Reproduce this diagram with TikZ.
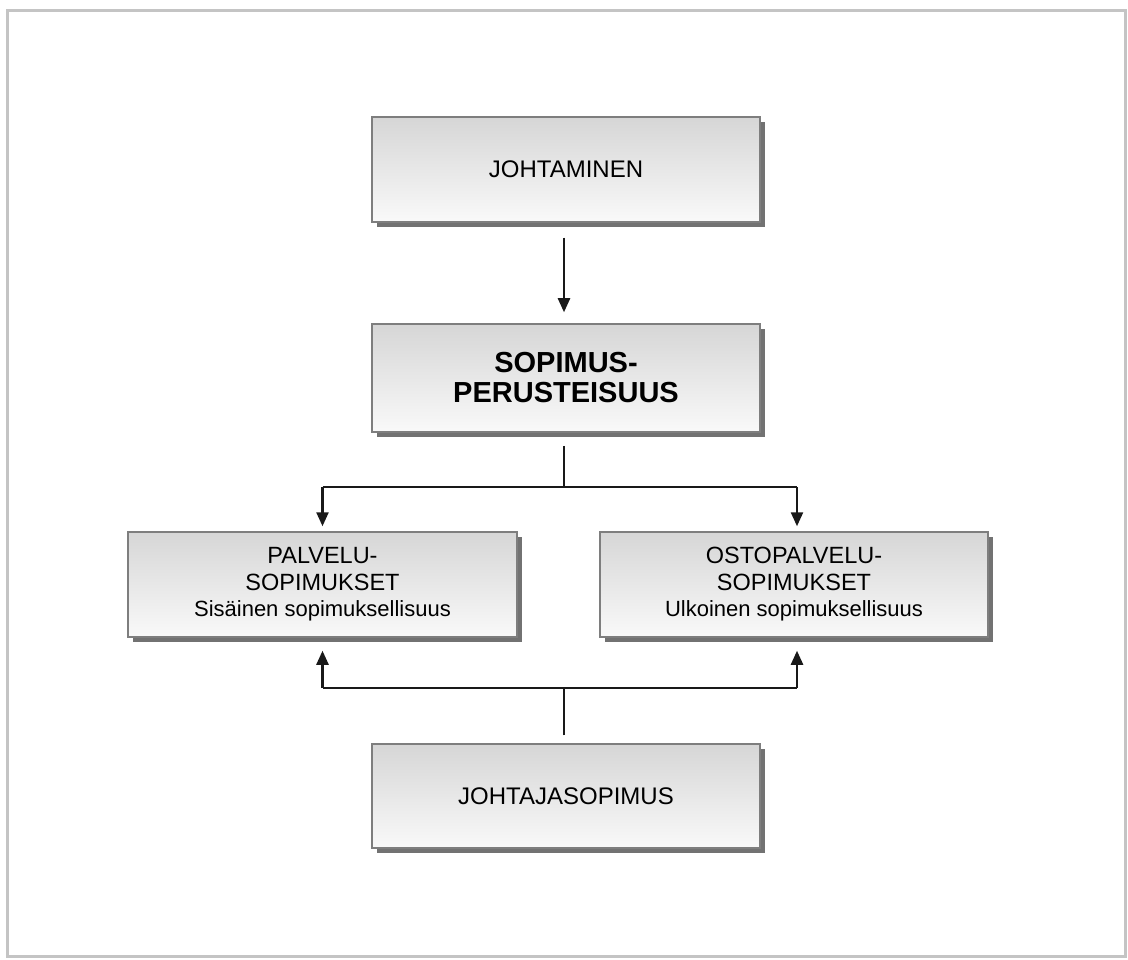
\documentclass[tikz,border=0pt]{standalone}
\usepackage{fontspec}
\setmainfont{Liberation Sans}
\usetikzlibrary{arrows.meta,shadows}

\definecolor{boxtop}{HTML}{D6D6D6}
\definecolor{boxbot}{HTML}{F9F9F9}
\definecolor{boxedge}{HTML}{7E7E7E}
\definecolor{boxshade}{HTML}{727272}
\definecolor{frameline}{HTML}{C4C4C4}

\tikzset{
  panel/.style={draw=boxedge, line width=1.5pt, top color=boxtop, bottom color=boxbot,
    drop shadow={shadow xshift=5pt, shadow yshift=-5pt, fill=boxshade, opacity=1},
    align=center, inner sep=0pt, font=\fontsize{24}{27}\selectfont},
  wire/.style={line width=2.4pt, draw=black!90},
  arr/.style={wire, -{Triangle[width=12pt,length=14pt]}},
}

\begin{document}
\begin{tikzpicture}[x=1pt,y=-1pt]
  \useasboundingbox (0,0) rectangle (1128,960);
  \fill[white] (0,0) rectangle (1128,960);
  \draw[frameline, line width=3pt] (7,11) rectangle (1125,956);

  \node[panel, minimum width=388pt, minimum height=105pt] (top) at (566,169.5)
    {JOHTAMINEN};
  \node[panel, minimum width=388pt, minimum height=108pt,
        font=\fontsize{29}{30}\selectfont\bfseries] (sop) at (566,378)
    {SOPIMUS-\\PERUSTEISUUS};
  \node[panel, minimum width=389pt, minimum height=105pt, font=\fontsize{23.5}{26.5}\selectfont] (pal) at (322.5,584.5)
    {PALVELU-\\SOPIMUKSET\\\fontsize{22}{26.5}\selectfont Sisäinen sopimuksellisuus};
  \node[panel, minimum width=388pt, minimum height=105pt, font=\fontsize{23.5}{26.5}\selectfont] (osto) at (794,584.5)
    {OSTOPALVELU-\\SOPIMUKSET\\\fontsize{22}{26.5}\selectfont Ulkoinen sopimuksellisuus};
  \node[panel, minimum width=388pt, minimum height=104pt] (lead) at (566,796)
    {JOHTAJASOPIMUS};

  % junction points of the two distribution lines
  \coordinate (busA) at (564,487);
  \coordinate (busB) at (564,688);

  \draw[arr, shorten <=15pt, shorten >=11pt] (top.south -| busA) -- (sop.north -| busA);

  \draw[wire, shorten <=13pt] (sop.south -| busA) -- (busA);
  \draw[wire] (busA -| pal.north) -- ([xshift=3pt]busA -| osto.north);
  \draw[arr, shorten >=5pt] (busA -| pal.north) -- (pal.north);
  \draw[arr, shorten >=5pt] ([xshift=3pt]busA -| osto.north) -- ([xshift=3pt]osto.north);

  \draw[wire, shorten <=8pt] (lead.north -| busB) -- (busB);
  \draw[wire] (busB -| pal.south) -- ([xshift=3pt]busB -| osto.south);
  \draw[arr, shorten >=13pt] (busB -| pal.south) -- (pal.south);
  \draw[arr, shorten >=13pt] ([xshift=3pt]busB -| osto.south) -- ([xshift=3pt]osto.south);
\end{tikzpicture}
\end{document}
